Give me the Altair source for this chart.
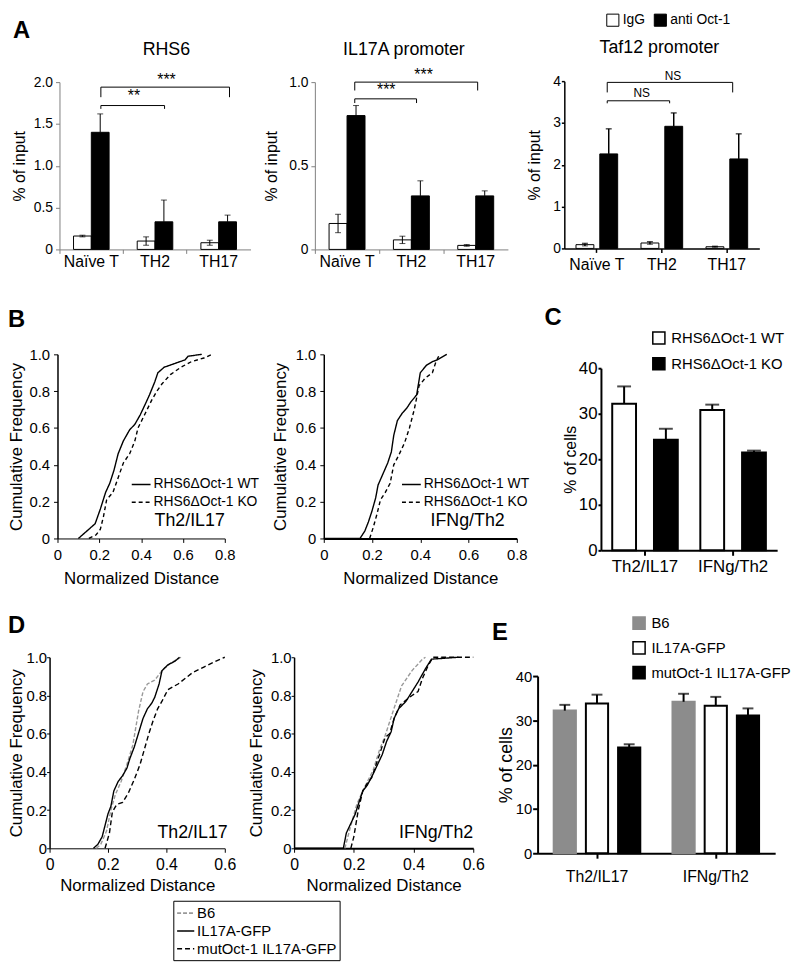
import altair as alt
import pandas as pd

FONT = "Liberation Sans"

# ---------------- Panel A : ChIP (% of input) ----------------
a_categories = ["Naïve T", "TH2", "TH17"]
a_groups = ["IgG", "anti Oct-1"]

rhs6_igg = [0.16, 0.10, 0.08]
rhs6_igg_err = [0.01, 0.05, 0.03]
rhs6_anti = [1.40, 0.33, 0.33]
rhs6_anti_err = [0.22, 0.26, 0.08]

il17a_igg = [0.155, 0.057, 0.024]
il17a_igg_err = [0.055, 0.022, 0.005]
il17a_anti = [0.80, 0.32, 0.32]
il17a_anti_err = [0.06, 0.09, 0.03]

taf12_igg = [0.09, 0.13, 0.04]
taf12_igg_err = [0.03, 0.03, 0.01]
taf12_anti = [2.26, 2.92, 2.14]
taf12_anti_err = [0.60, 0.32, 0.60]

# significance brackets (x in category units 0..3, y in data units)
rhs6_br_x1 = [0.65, 0.65]
rhs6_br_x2 = [2.67, 1.65]
rhs6_br_y = [1.94, 1.72]
rhs6_br_drop = [0.12, 0.04]
rhs6_br_text = ["***", "**"]
rhs6_br_tx = [1.68, 1.17]
rhs6_br_ty = [1.97, 1.78]

il17a_br_x1 = [0.62, 0.62]
il17a_br_x2 = [2.53, 1.58]
il17a_br_y = [1.0, 0.90]
il17a_br_drop = [0.05, 0.025]
il17a_br_text = ["***", "***"]
il17a_br_tx = [1.69, 1.11]
il17a_br_ty = [1.01, 0.925]

taf12_br_x1 = [0.66, 0.66]
taf12_br_x2 = [2.59, 1.62]
taf12_br_y = [3.97, 3.53]
taf12_br_drop = [0.24, 0.06]
taf12_br_text = ["NS", "NS"]
taf12_br_tx = [1.67, 1.19]
taf12_br_ty = [4.02, 3.61]

# ---------------- Panel B : cumulative distributions ----------------
b_groups = ["RHS6ΔOct-1 WT", "RHS6ΔOct-1 KO"]
b1_wt_x = [0.10, 0.12, 0.15, 0.18, 0.205, 0.23, 0.25, 0.27, 0.29, 0.315, 0.345, 0.37, 0.395, 0.42, 0.44, 0.465, 0.48, 0.51, 0.56, 0.61, 0.625, 0.69]
b1_wt_y = [0.0, 0.02, 0.05, 0.08, 0.16, 0.25, 0.30, 0.37, 0.46, 0.53, 0.59, 0.62, 0.67, 0.73, 0.78, 0.85, 0.90, 0.93, 0.95, 0.97, 0.99, 1.0]
b1_ko_x = [0.15, 0.185, 0.205, 0.22, 0.235, 0.265, 0.29, 0.315, 0.345, 0.37, 0.385, 0.42, 0.45, 0.475, 0.50, 0.54, 0.59, 0.64, 0.70, 0.74]
b1_ko_y = [0.0, 0.02, 0.05, 0.12, 0.21, 0.25, 0.33, 0.41, 0.46, 0.53, 0.60, 0.68, 0.75, 0.80, 0.84, 0.89, 0.93, 0.96, 0.98, 1.0]

b2_wt_x = [0.0, 0.15, 0.17, 0.185, 0.20, 0.215, 0.225, 0.245, 0.265, 0.28, 0.29, 0.305, 0.325, 0.345, 0.36, 0.385, 0.40, 0.425, 0.45, 0.47, 0.51]
b2_wt_y = [0.0, 0.0, 0.04, 0.09, 0.15, 0.22, 0.29, 0.35, 0.41, 0.47, 0.56, 0.64, 0.68, 0.71, 0.74, 0.78, 0.90, 0.94, 0.96, 0.97, 1.0]
b2_ko_x = [0.19, 0.205, 0.22, 0.235, 0.255, 0.275, 0.29, 0.31, 0.335, 0.355, 0.375, 0.395, 0.42, 0.45, 0.465, 0.48]
b2_ko_y = [0.0, 0.06, 0.13, 0.21, 0.25, 0.30, 0.40, 0.45, 0.52, 0.60, 0.70, 0.83, 0.87, 0.90, 0.96, 1.0]

# ---------------- Panel C ----------------
c_categories = ["Th2/IL17", "IFNg/Th2"]
c_groups = ["RHS6ΔOct-1 WT", "RHS6ΔOct-1 KO"]
c_wt = [32.2, 30.8]
c_wt_err = [3.8, 1.2]
c_ko = [24.3, 21.5]
c_ko_err = [2.4, 0.4]

# ---------------- Panel D ----------------
d_groups = ["B6", "IL17A-GFP", "mutOct-1 IL17A-GFP"]
d1_b6_x = [0.16, 0.175, 0.195, 0.21, 0.225, 0.245, 0.265, 0.285, 0.295, 0.305, 0.32, 0.335, 0.36, 0.385, 0.415, 0.45]
d1_b6_y = [0.0, 0.02, 0.09, 0.20, 0.28, 0.35, 0.44, 0.54, 0.63, 0.72, 0.82, 0.86, 0.88, 0.93, 0.97, 1.0]
d1_il17_x = [0.15, 0.165, 0.18, 0.19, 0.20, 0.21, 0.22, 0.235, 0.25, 0.265, 0.275, 0.29, 0.30, 0.31, 0.32, 0.335, 0.35, 0.36, 0.375, 0.385, 0.405, 0.43, 0.445]
d1_il17_y = [0.0, 0.02, 0.06, 0.12, 0.18, 0.22, 0.30, 0.35, 0.38, 0.42, 0.47, 0.53, 0.58, 0.63, 0.68, 0.73, 0.76, 0.79, 0.86, 0.93, 0.96, 0.98, 1.0]
d1_mut_x = [0.19, 0.205, 0.215, 0.23, 0.25, 0.27, 0.29, 0.31, 0.325, 0.34, 0.355, 0.37, 0.385, 0.405, 0.44, 0.465, 0.49, 0.53, 0.57, 0.60]
d1_mut_y = [0.0, 0.08, 0.19, 0.23, 0.24, 0.29, 0.36, 0.44, 0.52, 0.60, 0.67, 0.73, 0.77, 0.83, 0.86, 0.89, 0.92, 0.95, 0.98, 1.0]

d2_b6_x = [0.17, 0.185, 0.21, 0.23, 0.265, 0.285, 0.305, 0.33, 0.36, 0.395, 0.43, 0.44]
d2_b6_y = [0.0, 0.09, 0.23, 0.30, 0.41, 0.51, 0.59, 0.71, 0.85, 0.93, 0.99, 1.0]
d2_il17_x = [0.0, 0.165, 0.175, 0.19, 0.205, 0.215, 0.23, 0.245, 0.265, 0.28, 0.295, 0.31, 0.325, 0.335, 0.35, 0.375, 0.395, 0.415, 0.44, 0.46, 0.55]
d2_il17_y = [0.0, 0.0, 0.08, 0.13, 0.18, 0.23, 0.30, 0.33, 0.39, 0.44, 0.49, 0.56, 0.61, 0.68, 0.73, 0.77, 0.82, 0.87, 0.94, 0.99, 1.0]
d2_mut_x = [0.19, 0.20, 0.215, 0.23, 0.245, 0.26, 0.275, 0.29, 0.305, 0.32, 0.335, 0.355, 0.37, 0.395, 0.415, 0.43, 0.45, 0.465, 0.60]
d2_mut_y = [0.0, 0.06, 0.20, 0.30, 0.34, 0.37, 0.44, 0.51, 0.58, 0.60, 0.68, 0.75, 0.77, 0.80, 0.82, 0.89, 0.96, 1.0, 1.0]

# ---------------- Panel E ----------------
e_categories = ["Th2/IL17", "IFNg/Th2"]
e_groups = ["B6", "IL17A-GFP", "mutOct-1 IL17A-GFP"]
e_b6 = [32.2, 34.2]
e_b6_err = [1.3, 1.8]
e_il17 = [33.8, 33.3]
e_il17_err = [2.0, 2.0]
e_mut = [23.9, 31.1]
e_mut_err = [0.7, 1.6]

FMT1 = "datum.value == 0 ? '0' : format(datum.value, '.1f')"

# canvas: one layered view; page pixel = canvas pixel + 8 (body margin)
W, H = 792, 956
OFF = 8


class Frame:
    """Plot-area rectangle of one panel, in page pixels."""
    def __init__(self, x0, x1, y0, y1):
        self.xr = [x0 - OFF, x1 - OFF]
        self.yr = [y1 - OFF, y0 - OFF]
        self.yoff = -(x0 - OFF)
        self.xoff = (y1 - OFF) - H


def note(text, x, y, size, weight="normal", align="left", baseline="alphabetic"):
    return alt.Chart(pd.DataFrame({"t": [text]})).mark_text(
        fontSize=size, fontWeight=weight, align=align, baseline=baseline, color="black", font=FONT
    ).encode(x=alt.value(x - OFF), y=alt.value(y - OFF), text="t:N")


def a_panel(fr, igg, igg_err, anti, anti_err, ymax, yvals, yfmt, excel,
            br_x1, br_x2, br_y, br_drop, br_text, br_tx, br_ty, br_size,
            ytitle_pad, xlabel_pad, legend=None):
    rows = []
    for c, v, e in zip(a_categories, igg, igg_err):
        rows.append({"cat": c, "grp": a_groups[0], "val": v, "lo": v - e, "hi": v + e})
    for c, v, e in zip(a_categories, anti, anti_err):
        rows.append({"cat": c, "grp": a_groups[1], "val": v, "lo": v, "hi": v + e})
    df = pd.DataFrame(rows)
    df_igg = df[df["grp"] == a_groups[0]]
    col = "#7f7f7f" if excel else "black"
    lw = 1 if excel else 1.5
    x = alt.X("cat:N", sort=a_categories, title=None,
              scale=alt.Scale(domain=a_categories, range=fr.xr, paddingInner=0, paddingOuter=0),
              axis=alt.Axis(orient="bottom", offset=fr.xoff, labelAngle=0, labelFontSize=16,
                            labelPadding=xlabel_pad, tickSize=4, bandPosition=0 if excel else 0.5,
                            domainColor=col, tickColor=col, domainWidth=lw, tickWidth=lw))
    if excel:
        xs_off = alt.Scale(paddingInner=0, paddingOuter=0.79)
    else:
        xs_off = alt.Scale(paddingInner=0.25, paddingOuter=0.49)
    xo = alt.XOffset("grp:N", sort=a_groups, scale=xs_off)
    y = alt.Y("val:Q", scale=alt.Scale(domain=[0, ymax], range=fr.yr, nice=False),
              axis=alt.Axis(orient="left", offset=fr.yoff, values=yvals, labelExpr=yfmt,
                            title="% of input", titleFontSize=16, titleFontWeight="normal",
                            titlePadding=ytitle_pad, labelFontSize=14,
                            labelPadding=3 if excel else 1, tickSize=4 if excel else 3,
                            domainColor=col, tickColor=col, domainWidth=lw, tickWidth=lw, grid=False))
    fill = alt.Fill("grp:N", sort=a_groups, scale=alt.Scale(domain=a_groups, range=["white", "black"]),
                    legend=legend)
    bars = alt.Chart(df).mark_bar(stroke="black", strokeWidth=1).encode(x=x, xOffset=xo, y=y, fill=fill)
    err = alt.Chart(df).mark_rule(color="black", strokeWidth=1 if excel else 1.5).encode(
        x=x, xOffset=xo, y="lo:Q", y2="hi:Q")
    cap_hi = alt.Chart(df).mark_tick(color="black", thickness=1 if excel else 1.5, size=6).encode(
        x=x, xOffset=xo, y="hi:Q")
    cap_lo = alt.Chart(df_igg).mark_tick(color="black", thickness=1, size=6).encode(
        x=x, xOffset=xo, y="lo:Q")
    inner = alt.layer(bars, err, cap_hi, cap_lo)

    xs = alt.Scale(domain=[0, 3], range=fr.xr, nice=False, zero=False)
    bh = pd.DataFrame({"x1": br_x1, "x2": br_x2, "y": br_y})
    bv = pd.DataFrame({"x": list(br_x1) + list(br_x2),
                       "y": list(br_y) * 2,
                       "y2": [yy - d for yy, d in zip(br_y, br_drop)] * 2})
    bt = pd.DataFrame({"tx": br_tx, "ty": br_ty, "t": br_text})
    h = alt.Chart(bh).mark_rule(color="black", strokeWidth=1).encode(
        x=alt.X("x1:Q", scale=xs, axis=None), x2="x2:Q", y="y:Q")
    v = alt.Chart(bv).mark_rule(color="black", strokeWidth=1).encode(
        x=alt.X("x:Q", scale=xs, axis=None), y="y:Q", y2="y2:Q")
    t = alt.Chart(bt).mark_text(fontSize=br_size, baseline="alphabetic", color="black", font=FONT).encode(
        x=alt.X("tx:Q", scale=xs, axis=None), y="ty:Q", text="t:N")
    br = alt.layer(h, v, t)
    return alt.layer(inner, br).resolve_scale(x="independent")


def cdf_panel(fr, series, names, colors, dashes, xmax, xvals, legend,
              corner, corner_x, corner_y, ytitle_pad, xlab_pad, xtitle_pad, ylab_pad, axis_w,
              xlab_size=15, ytick=4):
    rows = []
    for n, (xs_, ys_) in zip(names, series):
        for i, (a, b) in enumerate(zip(xs_, ys_)):
            rows.append({"grp": n, "x": a, "y": b, "i": i})
    df = pd.DataFrame(rows)
    x = alt.X("x:Q", scale=alt.Scale(domain=[0, xmax], range=fr.xr, nice=False, zero=True),
              axis=alt.Axis(orient="bottom", offset=fr.xoff, values=xvals, labelExpr=FMT1,
                            title="Normalized Distance", titleFontSize=17, titleFontWeight="normal",
                            titlePadding=xtitle_pad, labelFontSize=xlab_size, labelPadding=xlab_pad,
                            tickSize=4, domainColor="black", tickColor="black", domainWidth=axis_w,
                            tickWidth=1, grid=False, labelFlush=False, labelOverlap=False))
    y = alt.Y("y:Q", scale=alt.Scale(domain=[0, 1], range=fr.yr, nice=False),
              axis=alt.Axis(orient="left", offset=fr.yoff, values=[0, 0.2, 0.4, 0.6, 0.8, 1.0],
                            labelExpr=FMT1, title="Cumulative Frequency", titleFontSize=17,
                            titleFontWeight="normal", titlePadding=ytitle_pad, labelFontSize=15,
                            labelPadding=ylab_pad, tickSize=ytick, domainColor="black", tickColor="black",
                            domainWidth=1.5, tickWidth=1, grid=False, labelFlush=False,
                            labelOverlap=False))
    lines = alt.Chart(df).mark_line(strokeWidth=1.4).encode(
        x=x, y=y,
        color=alt.Color("grp:N", sort=names, scale=alt.Scale(domain=names, range=colors), legend=legend),
        strokeDash=alt.StrokeDash("grp:N", sort=names, scale=alt.Scale(domain=names, range=dashes),
                                  legend=legend),
        order="i:Q")
    txt = alt.Chart(pd.DataFrame({"t": [corner], "tx": [corner_x], "ty": [corner_y]})).mark_text(
        fontSize=18, align="right", baseline="alphabetic", color="black", font=FONT
    ).encode(x="tx:Q", y="ty:Q", text="t:N")
    return alt.layer(lines, txt)


def gp_panel(fr, cats, groups, vals, errs, fills, strokes, pi, po, cap, legend,
             ylab_size, ytitle_size, ytitle_pad, ylab_pad, ytick, xlab_size, xlab_pad):
    rows = []
    for g, vs, es in zip(groups, vals, errs):
        for c, v, e in zip(cats, vs, es):
            rows.append({"cat": c, "grp": g, "val": v, "hi": v + e})
    df = pd.DataFrame(rows)
    x = alt.X("cat:N", sort=cats, title=None,
              scale=alt.Scale(domain=cats, range=fr.xr, paddingInner=0, paddingOuter=0),
              axis=alt.Axis(orient="bottom", offset=fr.xoff, labelAngle=0, labelFontSize=xlab_size,
                            labelPadding=xlab_pad, tickSize=5, tickWidth=2, domainWidth=2,
                            domainColor="black", tickColor="black"))
    xo = alt.XOffset("grp:N", sort=groups, scale=alt.Scale(paddingInner=pi, paddingOuter=po))
    y = alt.Y("val:Q", scale=alt.Scale(domain=[0, 40], range=fr.yr, nice=False),
              axis=alt.Axis(orient="left", offset=fr.yoff, values=[0, 10, 20, 30, 40], title="% of cells",
                            titleFontSize=ytitle_size, titleFontWeight="normal", titlePadding=ytitle_pad,
                            labelFontSize=ylab_size, labelPadding=ylab_pad, tickSize=ytick, tickWidth=2,
                            domainWidth=2, domainColor="black", tickColor="black", grid=False))
    bars = alt.Chart(df).mark_bar(strokeWidth=2).encode(
        x=x, xOffset=xo, y=y,
        fill=alt.Fill("grp:N", sort=groups, scale=alt.Scale(domain=groups, range=fills), legend=legend),
        stroke=alt.Stroke("grp:N", sort=groups, scale=alt.Scale(domain=groups, range=strokes), legend=legend))
    err = alt.Chart(df).mark_rule(color="black", strokeWidth=2).encode(x=x, xOffset=xo, y="val:Q", y2="hi:Q")
    caps = alt.Chart(df).mark_tick(color="black", thickness=2, size=cap).encode(x=x, xOffset=xo, y="hi:Q")
    return alt.layer(bars, err, caps)


# ---------------- frames (page pixels) ----------------
fr_rhs6 = Frame(60, 253, 78, 247)
fr_il17 = Frame(318, 513, 78, 247)
fr_taf12 = Frame(570, 767, 77, 246)
fr_b1 = Frame(58, 227, 353, 539)
fr_b2 = Frame(327, 522, 353, 539)
fr_c = Frame(607, 785, 367, 551)
fr_d1 = Frame(50, 227, 659, 852)
fr_d2 = Frame(297, 478, 659, 852)
fr_e = Frame(543, 783, 678, 857)

# ---------------- build panels ----------------
legend_a = alt.Legend(orient="none", legendX=612 - OFF, legendY=0, direction="horizontal", title=None,
                      labelFontSize=14, symbolType="square", symbolSize=150, symbolStrokeColor="black",
                      symbolStrokeWidth=1, columnPadding=6, labelOffset=3, padding=0)

rhs6 = a_panel(fr_rhs6, rhs6_igg, rhs6_igg_err, rhs6_anti, rhs6_anti_err, 2.0, [0, 0.5, 1.0, 1.5, 2.0],
               FMT1, True, rhs6_br_x1, rhs6_br_x2, rhs6_br_y, rhs6_br_drop, rhs6_br_text,
               rhs6_br_tx, rhs6_br_ty, 16, 6, 0)
il17 = a_panel(fr_il17, il17a_igg, il17a_igg_err, il17a_anti, il17a_anti_err, 1.0, [0, 0.5, 1.0],
               FMT1, True, il17a_br_x1, il17a_br_x2, il17a_br_y, il17a_br_drop, il17a_br_text,
               il17a_br_tx, il17a_br_ty, 16, 9, 0)
taf12 = a_panel(fr_taf12, taf12_igg, taf12_igg_err, taf12_anti, taf12_anti_err, 4.0, [0, 1, 2, 3, 4],
                "format(datum.value, 'd')", False, taf12_br_x1, taf12_br_x2, taf12_br_y,
                taf12_br_drop, taf12_br_text, taf12_br_tx, taf12_br_ty, 12, 10, 4, legend=legend_a)

legend_b1 = alt.Legend(orient="none", legendX=132 - OFF, legendY=474 - OFF, title=None, labelFontSize=14,
                       symbolType="stroke", symbolSize=360, symbolStrokeWidth=1.5, rowPadding=0,
                       labelOffset=2, padding=0)
legend_b2 = alt.Legend(orient="none", legendX=405 - OFF, legendY=474 - OFF, title=None, labelFontSize=14,
                       symbolType="stroke", symbolSize=360, symbolStrokeWidth=1.5, rowPadding=0,
                       labelOffset=2, padding=0)
b_colors = ["black", "black"]
b_dashes = [[1, 0], [4, 3]]
b_left = cdf_panel(fr_b1, [(b1_wt_x, b1_wt_y), (b1_ko_x, b1_ko_y)], b_groups, b_colors, b_dashes,
                   0.8, [0, 0.2, 0.4, 0.6, 0.8], legend_b1, "Th2/IL17", 0.8, 0.067, 4, 5, 9, 4, 1)
b_right = cdf_panel(fr_b2, [(b2_wt_x, b2_wt_y), (b2_ko_x, b2_ko_y)], b_groups, b_colors, b_dashes,
                    0.8, [0, 0.2, 0.4, 0.6, 0.8], legend_b2, "IFNg/Th2", 0.75, 0.067, 6, 5, 9, 4, 2)

legend_c = alt.Legend(orient="none", legendX=658 - OFF, legendY=329 - OFF, title=None, labelFontSize=15,
                      symbolType="square", symbolSize=150, symbolStrokeWidth=1.5, rowPadding=7,
                      labelOffset=5, padding=0)
c_panel = gp_panel(fr_c, c_categories, c_groups, [c_wt, c_ko], [c_wt_err, c_ko_err], ["white", "black"],
                   ["black", "black"], 0.43, 0.27, 14, legend_c, 17, 16, 0, 1, 3, 17, 3)

d_colors = ["#999999", "black", "black"]
d_dashes = [[4, 2], [1, 0], [5, 3]]
legend_d = alt.Legend(orient="none", legendX=175 - OFF, legendY=905 - OFF, title=None, labelFontSize=15,
                      symbolType="stroke", symbolSize=300, symbolStrokeWidth=1.6, rowPadding=0,
                      labelOffset=2, padding=3, strokeColor="black")
d_left = cdf_panel(fr_d1, [(d1_b6_x, d1_b6_y), (d1_il17_x, d1_il17_y), (d1_mut_x, d1_mut_y)], d_groups,
                   d_colors, d_dashes, 0.6, [0, 0.2, 0.4, 0.6], None, "Th2/IL17", 0.61, 0.054,
                   1, 4, 6, 0, 1, xlab_size=16, ytick=3)
d_right = cdf_panel(fr_d2, [(d2_b6_x, d2_b6_y), (d2_il17_x, d2_il17_y), (d2_mut_x, d2_mut_y)], d_groups,
                    d_colors, d_dashes, 0.6, [0, 0.2, 0.4, 0.6], legend_d, "IFNg/Th2", 0.6, 0.054,
                    5, 4, 6, 0, 2, xlab_size=16, ytick=3)

legend_e = alt.Legend(orient="none", legendX=638 - OFF, legendY=617 - OFF, title=None, labelFontSize=15,
                      symbolType="square", symbolSize=150, symbolStrokeWidth=1.5, rowPadding=6,
                      labelOffset=5, padding=0)
e_panel = gp_panel(fr_e, e_categories, e_groups, [e_b6, e_il17, e_mut], [e_b6_err, e_il17_err, e_mut_err],
                   ["#8c8c8c", "white", "black"], ["#8c8c8c", "black", "black"], 0.31, 0.5, 11,
                   legend_e, 15, 18, 0, 1, 5, 16, 11)

notes = [
    note("A", 13, 33, 24, weight="bold"),
    note("B", 8, 325, 24, weight="bold"),
    note("C", 550, 323, 24, weight="bold"),
    note("D", 8, 635, 24, weight="bold"),
    note("E", 497, 642, 24, weight="bold"),
    note("RHS6", 168, 51, 18, align="center"),
    note("IL17A promoter", 408, 51, 18, align="center"),
    note("Taf12 promoter", 666, 49, 18, align="center"),
]

ind = dict(x="independent", y="independent", xOffset="independent", fill="independent",
           stroke="independent", color="independent", strokeDash="independent")
chart = alt.layer(rhs6, il17, taf12, b_left, b_right, c_panel, d_left, d_right, e_panel, *notes)
chart = chart.resolve_scale(**ind).resolve_axis(x="independent", y="independent").resolve_legend(
    fill="independent", stroke="independent", color="independent", strokeDash="independent")
chart = chart.properties(width=W, height=H, autosize=alt.AutoSizeParams(type="none"), padding=0)
chart = chart.configure(font=FONT).configure_view(stroke=None).configure_axis(
    labelColor="black", titleColor="black", labelFont=FONT, titleFont=FONT
).configure_legend(labelFont=FONT, labelColor="black")

chart.save("out.html", embed_options={"renderer": "svg", "actions": False})
